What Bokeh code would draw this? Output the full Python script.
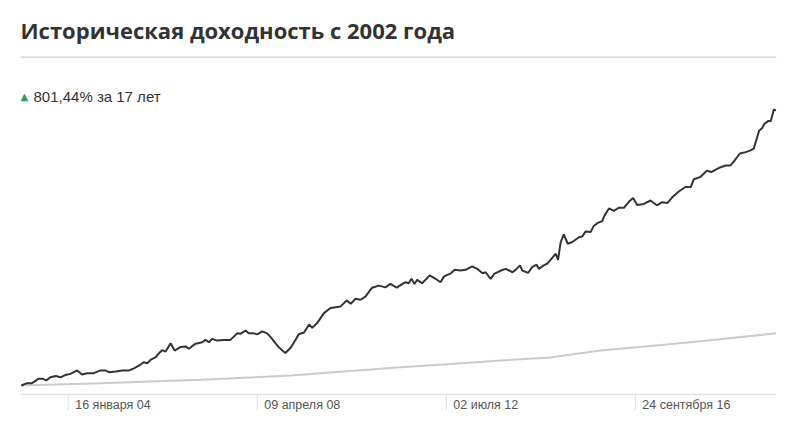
import numpy as np
import pandas as pd
from bokeh.plotting import figure
from bokeh.models import Range1d, Span, Label
from bokeh.core.properties import value
from bokeh.embed import file_html
from bokeh.resources import INLINE

title_text = "Историческая доходность с 2002 года"
summary_text = "801,44% за 17 лет"

tick_dates = ["2004-01-16", "2008-04-09", "2012-07-02", "2016-09-24"]
tick_labels = ["16 января 04", "09 апреля 08", "02 июля 12", "24 сентября 16"]

# fund cumulative return, % (x in decimal years)
fund_years = [2002.99, 2003.12, 2003.23, 2003.38, 2003.46, 2003.55, 2003.64, 2003.76, 2003.87, 2003.98,
              2004.09, 2004.24, 2004.35, 2004.47, 2004.61, 2004.76, 2004.87, 2004.95, 2005.10, 2005.25,
              2005.40, 2005.51, 2005.62, 2005.73, 2005.81, 2005.88, 2005.99, 2006.07, 2006.14, 2006.22,
              2006.33, 2006.42, 2006.55, 2006.67, 2006.74, 2006.89, 2007.04, 2007.11, 2007.19, 2007.26,
              2007.37, 2007.52, 2007.67, 2007.82, 2007.90, 2008.01, 2008.08, 2008.19, 2008.27, 2008.38,
              2008.49, 2008.57, 2008.68, 2008.75, 2008.83, 2008.90, 2009.02, 2009.13, 2009.20, 2009.31,
              2009.43, 2009.50, 2009.61, 2009.76, 2009.91, 2010.02, 2010.13, 2010.27, 2010.36, 2010.47,
              2010.58, 2010.69, 2010.84, 2010.99, 2011.14, 2011.25, 2011.39, 2011.52, 2011.59, 2011.66,
              2011.72, 2011.79, 2011.85, 2011.96, 2012.13, 2012.26, 2012.37, 2012.45, 2012.60, 2012.69,
              2012.82, 2012.93, 2013.08, 2013.19, 2013.31, 2013.38, 2013.49, 2013.57, 2013.72, 2013.83,
              2013.98, 2014.05, 2014.15, 2014.20, 2014.33, 2014.42, 2014.52, 2014.57, 2014.68, 2014.76,
              2014.87, 2014.95, 2015.00, 2015.06, 2015.13, 2015.22, 2015.32, 2015.47, 2015.54, 2015.62,
              2015.73, 2015.80, 2015.88, 2015.99, 2016.04, 2016.14, 2016.25, 2016.36, 2016.48, 2016.59,
              2016.68, 2016.77, 2016.92, 2017.07, 2017.21, 2017.33, 2017.45, 2017.56, 2017.71, 2017.86,
              2017.97, 2018.04, 2018.19, 2018.33, 2018.43, 2018.53, 2018.64, 2018.75, 2018.86, 2018.94,
              2019.07, 2019.20, 2019.31, 2019.38, 2019.50, 2019.57, 2019.61, 2019.71, 2019.76, 2019.83,
              2019.88]
fund_pct = [0, 7, 7, 20, 20, 15, 24, 28, 24, 31,
            34, 44, 32, 36, 36, 44, 44, 39, 41, 44,
            44, 50, 58, 68, 65, 75, 82, 94, 103, 99,
            123, 102, 112, 114, 107, 122, 126, 133, 126, 136,
            131, 133, 133, 152, 151, 160, 152, 152, 149, 158,
            152, 141, 123, 112, 102, 95, 111, 134, 150, 154,
            178, 168, 182, 211, 226, 228, 230, 248, 238, 253,
            250, 259, 285, 291, 286, 296, 285, 296, 301, 298,
            311, 296, 308, 298, 321, 311, 301, 318, 327, 337,
            335, 337, 347, 340, 327, 330, 311, 325, 335, 340,
            330, 337, 350, 335, 328, 345, 352, 340, 350, 355,
            372, 384, 366, 418, 440, 413, 418, 432, 434, 449,
            447, 465, 473, 479, 495, 516, 509, 518, 518, 536,
            546, 526, 529, 539, 525, 534, 532, 549, 566, 579,
            578, 601, 608, 626, 622, 629, 636, 641, 641, 654,
            676, 680, 685, 690, 742, 750, 761, 771, 770, 804,
            801.44]

# benchmark (grey) cumulative return, %
bench_years = [2002.99, 2004.76, 2007.00, 2009.02, 2009.98, 2011.48, 2012.60,
               2013.72, 2014.83, 2015.95, 2017.07, 2018.19, 2019.88]
bench_pct = [0, 7, 17, 29, 39, 53, 63, 73, 82, 102, 115, 129, 152]


def to_dt(y):
    year = int(np.floor(y))
    start = pd.Timestamp(year=year, month=1, day=1)
    end = pd.Timestamp(year=year + 1, month=1, day=1)
    return start + (end - start) * (y - year)


fund_x = [to_dt(v) for v in fund_years]
bench_x = [to_dt(v) for v in bench_years]
tick_x = [pd.Timestamp(d) for d in tick_dates]
x_start = to_dt(2002.972)
x_end = to_dt(2019.89)

# y layout (values in % units)
Y_TOP, Y_BOTTOM = 976, -96
AXIS_Y, TICK_END_Y, LABEL_Y = -26, -73, -58

p = figure(width=800, height=418, x_axis_type="datetime",
           x_range=Range1d(x_start, x_end), y_range=Range1d(Y_BOTTOM, Y_TOP),
           output_backend="svg", toolbar_location=None,
           min_border_left=20, min_border_right=24, min_border_top=50, min_border_bottom=0)
p.outline_line_color = None
p.background_fill_color = "white"
p.border_fill_color = "white"
p.grid.visible = False
p.xaxis.visible = False
p.yaxis.visible = False

p.title.text = title_text
p.title.text_font = "Open Sans"
p.title.text_font_size = "22px"
p.title.text_font_style = "bold"
p.title.text_color = "#333333"
p.title.align = "left"
p.title.offset = 0
p.title.standoff = 11

# separator under the title and axis base line
p.add_layout(Span(location=956, dimension="width", line_color="#dedede", line_width=2))
p.add_layout(Span(location=AXIS_Y, dimension="width", line_color="#e4e4e4", line_width=1.5))

# tick lines and tick labels
p.segment(x0=tick_x, y0=[AXIS_Y] * len(tick_x), x1=tick_x, y1=[TICK_END_Y] * len(tick_x),
          line_color="#e4e4e4", line_width=1.2)
p.text(x=tick_x, y=[LABEL_Y] * len(tick_x), text=tick_labels, x_offset=7,
       text_font=value("Liberation Sans"), text_font_size="12.5px",
       text_color="#555555", text_baseline="middle", text_align="left")

p.line(bench_x, bench_pct, line_color="#c9cbcd", line_width=2)
p.line(fund_x, fund_pct, line_color="#333333", line_width=2)

p.add_layout(Label(x=x_start, y=843, x_offset=0, text="▲", text_font="DejaVu Sans",
                   text_font_size="10px", text_color="#2e9e4f", text_baseline="middle"))
p.add_layout(Label(x=x_start, y=843, x_offset=13, text=summary_text, text_font="Liberation Sans",
                   text_font_size="15px", text_color="#333333", text_baseline="middle"))

open("out.html", "w").write(file_html(p, INLINE))
